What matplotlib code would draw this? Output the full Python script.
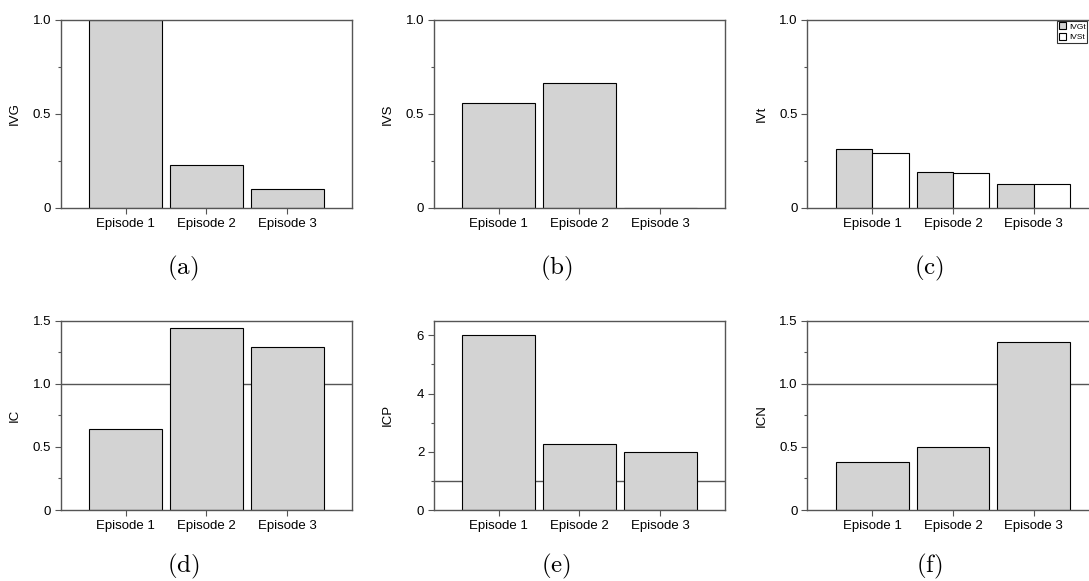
import matplotlib
matplotlib.use("Agg")
import matplotlib.pyplot as plt
from matplotlib.ticker import FixedLocator

plt.rcParams['font.family'] = ['Liberation Sans', 'DejaVu Sans']
plt.rcParams['mathtext.fontset'] = 'cm'

# data
episodes = ['Episode 1', 'Episode 2', 'Episode 3']
ivg = [1.0, 0.23, 0.10]
ivs = [0.556, 0.667, 0.0]
ivt_a = [0.315, 0.19, 0.13]
ivt_b = [0.29, 0.185, 0.13]
ic = [0.64, 1.44, 1.29]
icp = [6.0, 2.25, 2.0]
icn = [0.38, 0.50, 1.33]
legend_labels = ['IVGt', 'IVSt']

bar_color = '#d3d3d3'
spine_color = '#555555'

fig = plt.figure(figsize=(10.89, 5.81), dpi=100)

lefts = [0.0560, 0.3985, 0.7415]
width = 0.2672
rows = [(0.642, 0.3236), (0.1222, 0.3258)]


def make_axes(col, row):
    b, h = rows[row]
    ax = fig.add_axes([lefts[col], b, width, h])
    for s in ax.spines.values():
        s.set_color(spine_color)
        s.set_linewidth(1.0)
    ax.tick_params(axis='both', which='both', direction='out', colors=spine_color,
                   labelcolor='black', labelsize=9.5, top=False, right=False)
    ax.tick_params(axis='both', which='major', length=4, width=0.8, pad=3)
    ax.tick_params(axis='y', which='minor', length=2, width=0.8)
    ax.set_xlim(0.2, 3.8)
    ax.set_xticks([1, 2, 3])
    ax.set_xticklabels(episodes)
    return ax


def set_y(ax, top, ticks, labels, minors, name):
    ax.set_ylim(0, top)
    ax.set_yticks(ticks)
    ax.set_yticklabels(labels)
    ax.yaxis.set_minor_locator(FixedLocator(minors))
    ax.set_ylabel(name, fontsize=9.5)
    ax.yaxis.set_label_coords(-0.137, 0.5)


x = [1, 2, 3]
x_left = [v - 0.225 for v in x]
x_right = [v + 0.225 for v in x]

# (a)
ax = make_axes(0, 0)
ax.bar(x, ivg, width=0.9, color=bar_color, edgecolor='black', linewidth=0.8)
set_y(ax, 1.0, [0, 0.5, 1.0], ['0', '0.5', '1.0'], [0.25, 0.75], 'IVG')

# (b)
ax = make_axes(1, 0)
ax.bar(x, ivs, width=0.9, color=bar_color, edgecolor='black', linewidth=0.8)
set_y(ax, 1.0, [0, 0.5, 1.0], ['0', '0.5', '1.0'], [0.25, 0.75], 'IVS')

# (c)
ax = make_axes(2, 0)
ax.bar(x_left, ivt_a, width=0.45, color=bar_color, edgecolor='black',
       linewidth=0.8, label=legend_labels[0])
ax.bar(x_right, ivt_b, width=0.45, color='white', edgecolor='black',
       linewidth=0.8, label=legend_labels[1])
set_y(ax, 1.0, [0, 0.5, 1.0], ['0', '0.5', '1.0'], [0.25, 0.75], 'IVt')
leg = ax.legend(loc='upper left', bbox_to_anchor=(0.858, 0.997), fontsize=6,
                frameon=True, fancybox=False, borderaxespad=0, handlelength=0.9,
                handleheight=0.9, handletextpad=0.3, labelspacing=0.25,
                borderpad=0.2)
leg.get_frame().set_edgecolor('black')
leg.get_frame().set_linewidth(0.8)

# (d)
ax = make_axes(0, 1)
ax.axhline(1.0, color=spine_color, linewidth=1.0, zorder=0.5)
ax.bar(x, ic, width=0.9, color=bar_color, edgecolor='black', linewidth=0.8)
set_y(ax, 1.5, [0, 0.5, 1.0, 1.5], ['0', '0.5', '1.0', '1.5'],
      [0.25, 0.75, 1.25], 'IC')

# (e)
ax = make_axes(1, 1)
ax.axhline(1.0, color=spine_color, linewidth=1.0, zorder=0.5)
ax.bar(x, icp, width=0.9, color=bar_color, edgecolor='black', linewidth=0.8)
set_y(ax, 6.5, [0, 2, 4, 6], ['0', '2', '4', '6'], [1, 3, 5], 'ICP')

# (f)
ax = make_axes(2, 1)
ax.axhline(1.0, color=spine_color, linewidth=1.0, zorder=0.5)
ax.bar(x, icn, width=0.9, color=bar_color, edgecolor='black', linewidth=0.8)
set_y(ax, 1.5, [0, 0.5, 1.0, 1.5], ['0', '0.5', '1.0', '1.5'],
      [0.25, 0.75, 1.25], 'ICN')

# panel captions
cap_x = [0.168, 0.511, 0.853]
cap_y = [0.5387, 0.0258]
letters = [['a', 'b', 'c'], ['d', 'e', 'f']]
for r in range(2):
    for c in range(3):
        fig.text(cap_x[c], cap_y[r], r'$\mathrm{(%s)}$' % letters[r][c],
                 fontsize=18, ha='center', va='center')

fig.savefig('out.png', dpi=100)
